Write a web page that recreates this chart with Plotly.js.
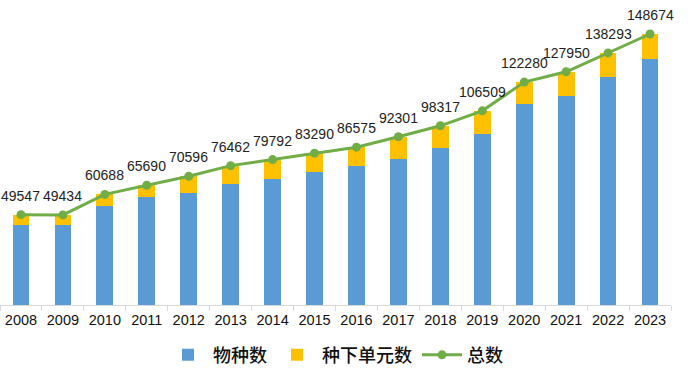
<!DOCTYPE html>
<html>
<head>
<meta charset="utf-8">
<script src="https://cdn.plot.ly/plotly-3.0.1.min.js"></script>
<style>html,body{margin:0;padding:0;background:#fff;}#chart{width:688px;height:379px;}</style>
</head>
<body>
<div id="chart"></div>
<script>
const years = ["2008","2009","2010","2011","2012","2013","2014","2015","2016","2017","2018","2019","2020","2021","2022","2023"];
const species = [44000,43900,54400,59500,61600,66400,69300,73000,76400,79950,86000,94000,110100,114840,125070,134960];
const subUnits = [5547,5534,6288,6190,8996,10062,10492,10290,10175,12351,12317,12509,12180,13110,13223,13714];
const totals = [49547,49434,60688,65690,70596,76462,79792,83290,86575,92301,98317,106509,122280,127950,138293,148674];
const seriesNames = ["物种数","种下单元数","总数"];

const traces = [
  {type:'bar', x:years, y:species, name:seriesNames[0], marker:{color:'#5B9BD5'}, hoverinfo:'skip'},
  {type:'bar', x:years, y:subUnits, name:seriesNames[1], marker:{color:'#FFC000'}, hoverinfo:'skip'},
  {type:'scatter', mode:'lines+markers', x:years, y:totals, name:seriesNames[2],
   line:{color:'#70AD47', width:3}, marker:{color:'#70AD47', size:9},
   cliponaxis:false, hoverinfo:'skip'}
];

// category axis: annotation x given as category index
const annotations = years.map((yr, i) => ({
  x: i, y: totals[i], xref:'x', yref:'y', text: String(totals[i]),
  showarrow:false, yshift:19,
  font:{family:'Liberation Sans, Arial, sans-serif', size:14, color:'#222'}
}));

const layout = {
  width:688, height:379,
  margin:{l:0, r:17, t:10, b:74, autoexpand:false},
  paper_bgcolor:'#fff', plot_bgcolor:'#fff',
  barmode:'stack', bargap:0.6,
  font:{family:'Liberation Sans, Arial, sans-serif', color:'#222'},
  xaxis:{type:'category', range:[-0.5,15.5], automargin:false, tickangle:0,
         showline:true, linecolor:'#d9d9d9', linewidth:1,
         ticks:'outside', tickson:'boundaries', ticklen:5, tickcolor:'#d9d9d9',
         ticklabelstandoff:2,
         tickfont:{size:14.5, color:'#111'}, showgrid:false, zeroline:false, fixedrange:true},
  yaxis:{range:[0,161840], visible:false, showgrid:false, zeroline:false, fixedrange:true, automargin:false},
  annotations: annotations,
  showlegend:true,
  legend:{orientation:'h', x:0.5, xanchor:'center', y:-0.17, yanchor:'middle',
          font:{family:'Noto Sans CJK SC, sans-serif', size:18, color:'#111', weight:500},
          traceorder:'normal', itemwidth:40}
};

Plotly.newPlot('chart', traces, layout, {displayModeBar:false, staticPlot:true});
</script>
</body>
</html>
